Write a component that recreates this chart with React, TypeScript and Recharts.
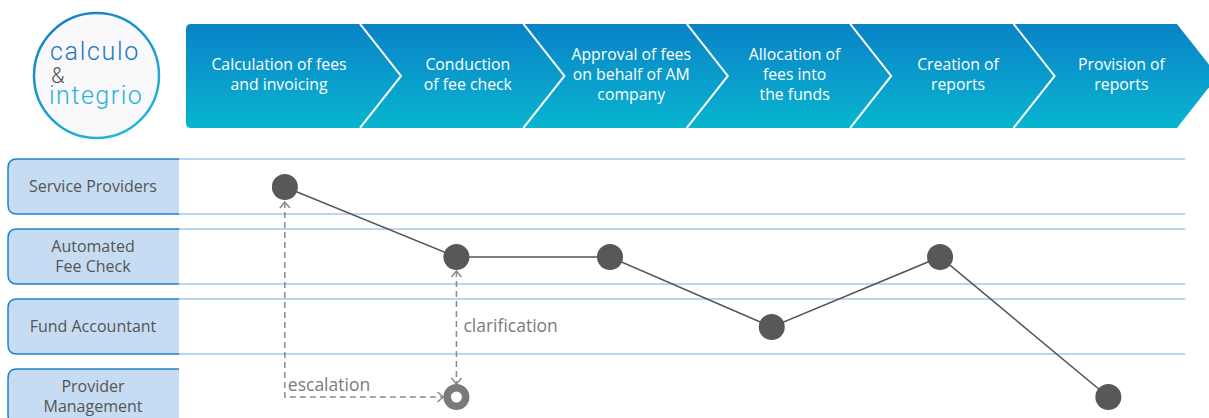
import { ComposedChart, Line, Scatter, XAxis, YAxis, ReferenceArea, ReferenceDot } from "recharts";

// process steps (banner) and swim lanes
const steps = [
  ["Calculation of fees", "and invoicing"],
  ["Conduction", "of fee check"],
  ["Approval of fees", "on behalf of AM", "company"],
  ["Allocation of", "fees into", "the funds"],
  ["Creation of", "reports"],
  ["Provision of", "reports"],
];
const lanes = [["Service Providers"], ["Automated", "Fee Check"], ["Fund Accountant"], ["Provider", "Management"]];

// flow: x position in step units, lane index
const flowX = [0.54, 1.59, 2.53, 3.52, 4.55, 5.58];
const flowLane = [0, 1, 1, 2, 1, 3];
const hollowX = 1.59;
const hollowLane = 3;

const flow = flowX.map((x, i) => ({ x, lane: flowLane[i] }));

const STEP_PX = 163.4;
const LANE_PX = 70;
const X_DOMAIN: [number, number] = [-0.114, 6.196];
const Y_DOMAIN: [number, number] = [-2.671, 3.3];
const BANNER_TOP = -2.329;
const BANNER_BOTTOM = -0.843;
const BANNER_LEFT = -0.065;
const LANE_END = 6.05;

const FONT = "'Open Sans', sans-serif";
const C = { dot: "#58585a", line: "#555", dash: "#8a8a8a", laneLine: "#a3c7ea", box: "#c6dcf2", boxEdge: "#1f82c9", text: "#555" };

// dashed helper paths (gaps keep arrow tips off the dots)
const escalation = [
  { x: flowX[0], lane: flowLane[0] + 15 / LANE_PX },
  { x: flowX[0], lane: hollowLane },
  { x: hollowX - 13 / STEP_PX, lane: hollowLane },
];
const clarification = [
  { x: hollowX, lane: flowLane[1] + 14 / LANE_PX },
  { x: hollowX, lane: hollowLane - 13 / LANE_PX },
];

function arrow(dirs: (string | null)[]) {
  return (p: any) => {
    const d = dirs[p.index];
    const { cx, cy } = p;
    let pts = "";
    if (d === "up") pts = `${cx - 5},${cy + 6} ${cx},${cy} ${cx + 5},${cy + 6}`;
    if (d === "down") pts = `${cx - 5},${cy - 6} ${cx},${cy} ${cx + 5},${cy - 6}`;
    if (d === "right") pts = `${cx - 6},${cy - 5} ${cx},${cy} ${cx - 6},${cy + 5}`;
    return (
      <g key={`a${p.index}`}>
        {pts && <polyline points={pts} fill="none" stroke={C.dash} strokeWidth={1.5} />}
      </g>
    );
  };
}

function BannerBg(p: any) {
  const { x, y, width, height } = p;
  const r = 5;
  const right = x + width;
  const d = `M${x + r},${y} H${right} L${right + 41},${y + height / 2} L${right},${y + height} H${x + r} Q${x},${y + height} ${x},${y + height - r} V${y + r} Q${x},${y} ${x + r},${y} Z`;
  return <path d={d} fill="url(#bannerGrad)" />;
}

function StepShape(i: number) {
  return (p: any) => {
    const { x, y, width, height } = p;
    const cx = i === 0 ? x + 93 : x + width * 0.66;
    const lines = steps[i];
    const mid = y + height / 2 - 1;
    return (
      <g>
        {i > 0 && (
          <polyline points={`${x},${y} ${x + 41},${y + height / 2} ${x},${y + height}`} fill="none" stroke="#fff" strokeWidth={2} />
        )}
        <text textAnchor="middle" fill="#fff" fontSize={15.8} fontFamily={FONT}>
          {lines.map((t, k) => (
            <tspan key={k} x={cx} y={mid + 5.5 - (lines.length - 1) * 10 + k * 20}>
              {t}
            </tspan>
          ))}
        </text>
      </g>
    );
  };
}

function LaneShape(p: any) {
  const { x, y, width, height } = p;
  return (
    <g stroke={C.laneLine} strokeWidth={1.5}>
      <line x1={x} x2={x + width} y1={y} y2={y} />
      <line x1={x} x2={x + width} y1={y + height} y2={y + height} />
    </g>
  );
}

function LaneTick(p: any) {
  const { y, payload } = p;
  const lines = lanes[payload.value];
  const top = y - 28;
  const bottom = y + 27;
  const r = 9;
  const d = `M179,${top} H${8 + r} Q8,${top} 8,${top + r} V${bottom - r} Q8,${bottom} ${8 + r},${bottom} H179`;
  return (
    <g>
      <path d={d + " Z"} fill={C.box} stroke="none" />
      <path d={d} fill="none" stroke={C.boxEdge} strokeWidth={1.5} />
      <text textAnchor="middle" fill={C.text} fontSize={16} fontFamily={FONT}>
        {lines.map((t, k) => (
          <tspan key={k} x={93} y={y + 5 - (lines.length - 1) * 10 + k * 20}>
            {t}
          </tspan>
        ))}
      </text>
    </g>
  );
}

function Ring(p: any) {
  return (
    <g>
      <circle cx={p.cx} cy={p.cy} r={13} fill="#7a7a7c" />
      <circle cx={p.cx} cy={p.cy} r={5.5} fill="#fff" />
    </g>
  );
}

function Logo() {
  return (
    <svg width={170} height={150} style={{ position: "absolute", left: 0, top: 0 }}>
      <defs>
        <linearGradient id="logoGrad" x1="0" y1="0" x2="0.6" y2="1">
          <stop offset="0" stopColor="#1479c4" />
          <stop offset="1" stopColor="#22b5d8" />
        </linearGradient>
      </defs>
      <circle cx={96.5} cy={75.5} r={62.5} fill="#f9f9fc" stroke="url(#logoGrad)" strokeWidth={2.5} />
      <g fontFamily="Roboto, sans-serif" fontWeight={300}>
        <text x={50} y={60} fontSize={25} fill="#1c76c0" letterSpacing={1.7}>calculo</text>
        <text x={51} y={83} fontSize={22} fill="#555">&amp;</text>
        <text x={49} y={104} fontSize={25} fill="#27b2d8" letterSpacing={1.5}>integrio</text>
      </g>
    </svg>
  );
}

export default function App() {
  return (
    <div style={{ position: "absolute", left: 0, top: 0, width: 1209, height: 418, background: "#fff", overflow: "hidden" }}>
      <ComposedChart width={1209} height={418} data={flow} margin={{ top: 0, right: 0, bottom: 0, left: 0 }}>
        <defs>
          <linearGradient id="bannerGrad" x1="0" y1="0" x2="0" y2="1">
            <stop offset="0" stopColor="#0a82c7" />
            <stop offset="1" stopColor="#08b5cf" />
          </linearGradient>
        </defs>
        <XAxis dataKey="x" type="number" domain={X_DOMAIN} allowDataOverflow hide />
        <YAxis
          type="number"
          domain={Y_DOMAIN}
          allowDataOverflow
          reversed
          width={178}
          ticks={[0, 1, 2, 3]}
          interval={0}
          axisLine={false}
          tickLine={false}
          tick={LaneTick}
        />
        <ReferenceArea x1={BANNER_LEFT} x2={6} y1={BANNER_TOP} y2={BANNER_BOTTOM} shape={BannerBg} />
        {steps.map((_, i) => (
          <ReferenceArea key={i} x1={i === 0 ? BANNER_LEFT : i} x2={i + 1} y1={BANNER_TOP} y2={BANNER_BOTTOM} shape={StepShape(i)} />
        ))}
        {lanes.map((_, i) => (
          <ReferenceArea key={`l${i}`} x1={X_DOMAIN[0]} x2={LANE_END} y1={i - 0.4} y2={i + 0.386} shape={LaneShape} />
        ))}
        <Line
          data={escalation}
          dataKey="lane"
          stroke={C.dash}
          strokeWidth={1.5}
          strokeDasharray="6 4"
          dot={arrow(["up", null, "right"])}
          activeDot={false}
          isAnimationActive={false}
        />
        <Line
          data={clarification}
          dataKey="lane"
          stroke={C.dash}
          strokeWidth={1.5}
          strokeDasharray="6 4"
          dot={arrow(["up", "down"])}
          activeDot={false}
          isAnimationActive={false}
        />
        <Line
          dataKey="lane"
          stroke={C.line}
          strokeWidth={1.5}
          dot={{ r: 13, fill: C.dot, stroke: "none" }}
          activeDot={false}
          isAnimationActive={false}
        />
        <Scatter data={[{ x: hollowX, lane: hollowLane }]} dataKey="lane" shape={Ring} isAnimationActive={false} />
        <ReferenceDot
          x={flowX[0]}
          y={hollowLane}
          r={0}
          fill="none"
          stroke="none"
          label={(p: any) => (
            <text x={p.viewBox.x + 3} y={p.viewBox.y - 6} fill="#7b7b7b" fontSize={17.5} fontFamily={FONT}>
              escalation
            </text>
          )}
        />
        <ReferenceDot
          x={hollowX}
          y={2}
          r={0}
          fill="none"
          stroke="none"
          label={(p: any) => (
            <text x={p.viewBox.x + 7} y={p.viewBox.y + 5} fill="#7b7b7b" fontSize={17.5} fontFamily={FONT}>
              clarification
            </text>
          )}
        />
      </ComposedChart>
      <Logo />
    </div>
  );
}
